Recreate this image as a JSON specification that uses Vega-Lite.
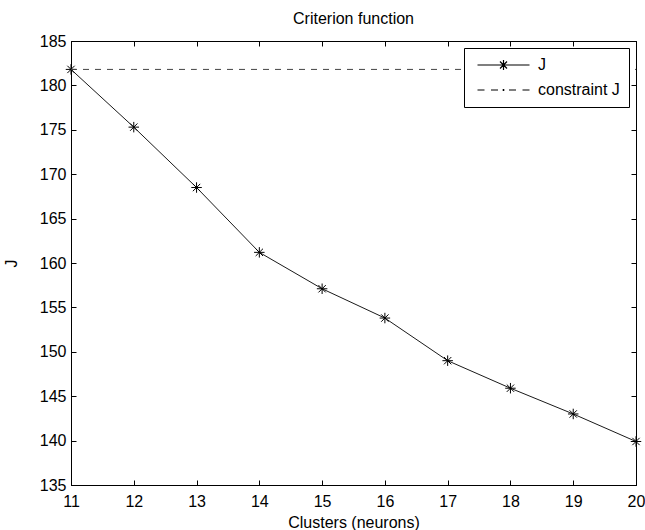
{
  "$schema": "https://vega.github.io/schema/vega-lite/v6.json",
  "width": 565,
  "height": 444,
  "autosize": {"type": "none"},
  "padding": {"left": 71, "top": 41, "right": 9, "bottom": 45},
  "background": "white",
  "title": {"text": "Criterion function", "font": "Liberation Sans", "fontSize": 16, "fontWeight": "normal", "color": "black", "offset": 6},
  "config": {
    "view": {"stroke": "black", "strokeWidth": 1},
    "axis": {
      "domainColor": "black",
      "domainWidth": 1,
      "tickColor": "black",
      "tickWidth": 1,
      "tickSize": -5,
      "grid": false,
      "labelFont": "Liberation Sans",
      "labelFontSize": 16,
      "labelColor": "black",
      "labelOverlap": false,
      "labelFlush": false,
      "labelBound": false,
      "titleFont": "Liberation Sans",
      "titleFontSize": 16,
      "titleFontWeight": "normal",
      "titleColor": "black"
    }
  },
  "datasets": {
    "crit": [
      {"clusters": 11, "J": 181.8, "constraint": 181.8},
      {"clusters": 12, "J": 175.3, "constraint": 181.8},
      {"clusters": 13, "J": 168.5, "constraint": 181.8},
      {"clusters": 14, "J": 161.2, "constraint": 181.8},
      {"clusters": 15, "J": 157.1, "constraint": 181.8},
      {"clusters": 16, "J": 153.8, "constraint": 181.8},
      {"clusters": 17, "J": 149.0, "constraint": 181.8},
      {"clusters": 18, "J": 145.9, "constraint": 181.8},
      {"clusters": 19, "J": 143.0, "constraint": 181.8},
      {"clusters": 20, "J": 139.9, "constraint": 181.8}
    ],
    "legendRows": [
      {"series": "J"},
      {"series": "constraint J"}
    ]
  },
  "layer": [
    {
      "data": {"name": "crit"},
      "mark": {"type": "line", "color": "#1a1a1a", "strokeWidth": 1},
      "encoding": {
        "x": {"field": "clusters", "type": "quantitative", "scale": {"domain": [11, 20], "nice": false, "zero": false},
              "axis": {"orient": "bottom", "values": [11,12,13,14,15,16,17,18,19,20], "title": "Clusters (neurons)", "labelPadding": 13, "titlePadding": 5}},
        "y": {"field": "J", "type": "quantitative", "scale": {"domain": [135, 185], "nice": false, "zero": false},
              "axis": {"orient": "left", "values": [135,140,145,150,155,160,165,170,175,180,185], "title": "J", "labelPadding": 10, "titlePadding": 20}}
      }
    },
    {
      "data": {"name": "crit"},
      "mark": {"type": "point", "shape": "M-1,0H1M0,-1V1M-0.7,-0.7L0.7,0.7M-0.7,0.7L0.7,-0.7", "size": 110, "stroke": "black", "strokeWidth": 1, "filled": false, "opacity": 1},
      "encoding": {
        "x": {"field": "clusters", "type": "quantitative", "axis": null},
        "y": {"field": "J", "type": "quantitative", "axis": null}
      }
    },
    {
      "data": {"name": "crit"},
      "mark": {"type": "line", "color": "#444444", "strokeWidth": 1, "strokeDash": [6, 6]},
      "encoding": {
        "x": {"field": "clusters", "type": "quantitative", "axis": null},
        "y": {"field": "constraint", "type": "quantitative", "axis": null}
      }
    },
    {
      "data": {"name": "legendRows"},
      "mark": {"type": "point", "opacity": 0},
      "encoding": {
        "shape": {
          "field": "series", "type": "nominal",
          "scale": {"domain": ["J", "constraint J"],
                    "range": ["M-0.7,0H9.7M3.5,0H5.5M4.5,-1V1M3.8,-0.7L5.2,0.7M3.8,0.7L5.2,-0.7",
                              "M-0.7,0H0.7M2.0,0H3.4M5.6,0H7.0M8.3,0H9.7M4.3,0H4.7M4.5,-0.2V0.2"]},
          "legend": {
            "title": null, "orient": "top-right", "offset": 7,
            "strokeColor": "black", "fillColor": "white", "padding": 9,
            "labelFont": "Liberation Sans", "labelFontSize": 16, "labelColor": "black",
            "symbolSize": 100, "symbolStrokeColor": "black", "symbolFillColor": "black",
            "symbolStrokeWidth": 1.2, "symbolOpacity": 1, "rowPadding": 9, "labelOffset": 49
          }
        }
      }
    },
    {
      "data": {"name": "crit"},
      "mark": {"type": "point", "opacity": 0},
      "encoding": {
        "x": {"field": "clusters", "type": "quantitative",
              "axis": {"orient": "top", "values": [11,12,13,14,15,16,17,18,19,20], "labels": false, "title": null}},
        "y": {"field": "J", "type": "quantitative",
              "axis": {"orient": "right", "values": [135,140,145,150,155,160,165,170,175,180,185], "labels": false, "title": null}}
      }
    }
  ],
  "resolve": {"axis": {"x": "independent", "y": "independent"}}
}
